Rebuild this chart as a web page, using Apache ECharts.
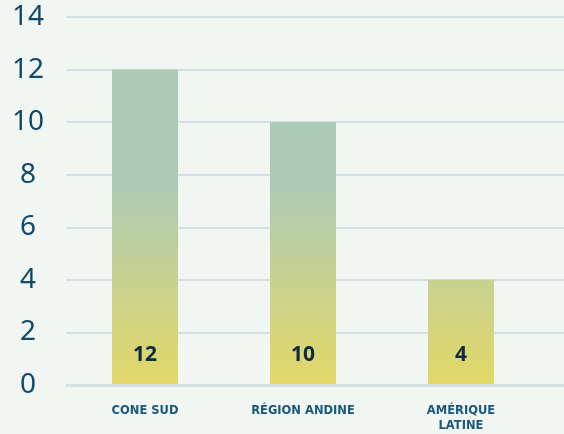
<!DOCTYPE html>
<html><head><meta charset="utf-8">
<script src="https://cdn.jsdelivr.net/npm/echarts@6/dist/echarts.min.js"></script>
<style>html,body{margin:0;padding:0;background:#f2f6f3;}#c{width:564px;height:434px;}</style>
</head><body><div id="c"></div>
<script>
const categories = ['CONE SUD', 'RÉGION ANDINE', 'AMÉRIQUE\nLATINE'];
const values = [12, 10, 4];
const yTicks = [0, 2, 4, 6, 8, 10, 12, 14];

const chart = echarts.init(document.getElementById('c'), null, {renderer: 'canvas'});
const barGrad = new echarts.graphic.LinearGradient(0, 185, 0, 385, [
  {offset: 0, color: '#adcab5'},
  {offset: 1, color: '#e3d867'}
], true);
chart.setOption({
  backgroundColor: '#f2f6f3',
  animation: false,
  grid: [
    {left: 66, right: 0, top: 17, bottom: 49},
    {left: 66, right: 24, top: 17, bottom: 49}
  ],
  xAxis: [
    {type: 'category', gridIndex: 0, data: categories, show: false},
    {type: 'category', gridIndex: 1, data: categories,
     axisLine: {show: false}, axisTick: {show: false},
     axisLabel: {color: '#17587c', fontFamily: 'DejaVu Sans', fontWeight: 'bold', fontSize: 11.5, lineHeight: 15, margin: 19}}
  ],
  yAxis: [
    {type: 'value', gridIndex: 0, min: yTicks[0], max: yTicks[yTicks.length-1], interval: 2,
     axisLine: {show: false}, axisTick: {show: false},
     splitLine: {lineStyle: {color: '#d3dfe2', width: 2}},
     axisLabel: {color: '#0f4a6c', fontFamily: 'Noto Sans', fontSize: 28, align: 'center', margin: 38}},
    {type: 'value', gridIndex: 1, min: yTicks[0], max: yTicks[yTicks.length-1], interval: 2, show: false}
  ],
  series: [{
    type: 'bar', xAxisIndex: 1, yAxisIndex: 1, data: values, barWidth: 66,
    itemStyle: {color: barGrad},
    label: {show: true, position: 'insideBottom', distance: 19, color: '#0d2b3e',
      fontFamily: 'Noto Sans', fontWeight: 'bold', fontSize: 21}
  }, {
    type: 'line', xAxisIndex: 0, yAxisIndex: 0, data: [], silent: true,
    markLine: {silent: true, symbol: 'none', label: {show: false},
      lineStyle: {color: '#d3dfe2', width: 3, type: 'solid'}, data: [{yAxis: 0}]}
  }]
});
</script></body></html>
